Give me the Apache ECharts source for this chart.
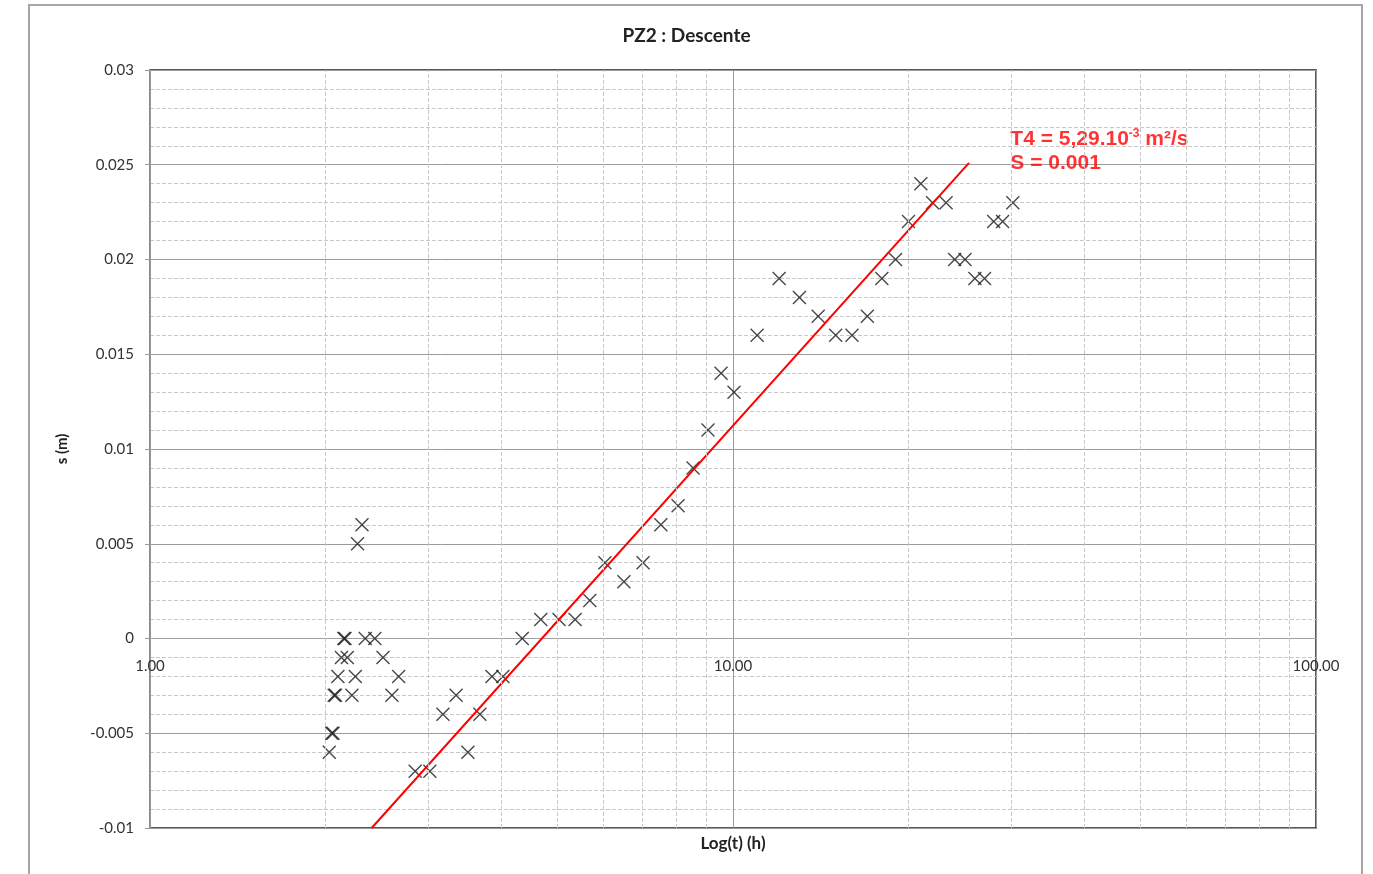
<!DOCTYPE html>
<html>
<head>
<meta charset="utf-8">
<script src="https://cdn.jsdelivr.net/npm/echarts@6/dist/echarts.min.js"></script>
<style>html,body{margin:0;padding:0;background:#fff}#chart{width:1373px;height:874px}</style>
</head>
<body>
<div id="chart"></div>
<script>
// Measured data: time (h) and drawdown s (m)
const timeH = [2.03, 2.05, 2.06, 2.07, 2.08, 2.10, 2.13, 2.15, 2.16, 2.18, 2.22, 2.25, 2.27, 2.31, 2.34, 2.43, 2.51, 2.60, 2.67,
  2.85, 3.02, 3.18, 3.35, 3.51, 3.68, 3.86, 4.03, 4.35, 4.68, 5.03, 5.36, 5.68, 6.03, 6.50, 7.01, 7.52, 8.05, 8.54, 9.06, 9.54,
  10.04, 11, 12, 13, 14, 15, 16, 17, 18, 19, 20, 21, 22, 23.2, 24, 25, 26, 27, 28, 29, 30.2];
const drawdown = [-0.006, -0.005, -0.005, -0.003, -0.003, -0.002, -0.001, 0, 0, -0.001, -0.003, -0.002, 0.005, 0.006, 0, 0, -0.001, -0.003, -0.002,
  -0.007, -0.007, -0.004, -0.003, -0.006, -0.004, -0.002, -0.002, 0, 0.001, 0.001, 0.001, 0.002, 0.004, 0.003, 0.004, 0.006, 0.007, 0.009, 0.011, 0.014,
  0.013, 0.016, 0.019, 0.018, 0.017, 0.016, 0.016, 0.017, 0.019, 0.020, 0.022, 0.024, 0.023, 0.023, 0.020, 0.020, 0.019, 0.019, 0.022, 0.022, 0.023];
// Fitted Jacob straight line
const fitT = [2.40, 25.4];
const fitS = [-0.01, 0.0251];
// Minor vertical grid positions on the log axis
const minorX = [2, 3, 4, 5, 6, 7, 8, 9, 20, 30, 40, 50, 60, 70, 80, 90];
const yTicks = { min: -0.01, max: 0.03, interval: 0.005 };
const xTicks = { min: 1, max: 100 };
const titleText = 'PZ2 : Descente';
const annotT = 29.9, annotS = 0.0257;

const FONT = 'Lato, "Liberation Sans", sans-serif';
const chart = echarts.init(document.getElementById('chart'), null, { renderer: 'canvas' });
chart.setOption({
  animation: false,
  backgroundColor: '#fff',
  title: {
    text: titleText, left: 'center', top: 21,
    textStyle: { fontFamily: FONT, fontSize: 19, fontWeight: 'bold', color: '#222' }
  },
  graphic: [
    { type: 'rect', shape: { x: 29, y: 5, width: 1333, height: 900 }, style: { fill: 'none', stroke: '#a6a6a6', lineWidth: 2 }, z: -1 },
    { type: 'text', x: 733, y: 835, style: { text: 'Log(t) (h)', font: 'bold 17px ' + FONT, fill: '#222', textAlign: 'center' } }
  ],
  grid: { left: 150, right: 57, top: 70, bottom: 46, show: true, borderColor: '#222', borderWidth: 1.5, backgroundColor: 'transparent' },
  xAxis: {
    type: 'log', logBase: 10, min: xTicks.min, max: xTicks.max,
    position: 'bottom', offset: -189.5,
    axisLine: { onZero: false, lineStyle: { color: '#a0a0a0' } },
    axisTick: { show: false },
    axisLabel: { margin: 20, fontFamily: FONT, fontSize: 15, color: '#333', formatter: v => v.toFixed(2), showMinLabel: true, showMaxLabel: true },
    splitLine: { show: true, lineStyle: { color: '#9a9a9a', width: 1 } }
  },
  yAxis: {
    type: 'value', min: yTicks.min, max: yTicks.max, interval: yTicks.interval,
    name: 's (m)', nameLocation: 'middle', nameGap: 80, nameRotate: 90,
    nameTextStyle: { fontFamily: FONT, fontSize: 15, fontWeight: 'bold', color: '#222' },
    axisLine: { show: true, onZero: false, lineStyle: { color: '#9a9a9a', width: 1.5 } },
    axisTick: { show: true, length: 5, lineStyle: { color: '#9a9a9a' } },
    axisLabel: { margin: 16, fontFamily: FONT, fontSize: 15, color: '#333' },
    splitLine: { show: true, lineStyle: { color: '#9a9a9a', width: 1 } },
    minorTick: { show: false, splitNumber: 5 },
    minorSplitLine: { show: true, lineStyle: { color: '#c8c8c8', type: [4, 2], width: 1 } }
  },
  series: [
    {
      type: 'line', data: [], silent: true,
      markLine: {
        silent: true, symbol: 'none', label: { show: false },
        lineStyle: { color: '#c8c8c8', type: [4, 2], width: 1 },
        data: minorX.map(v => ({ xAxis: v }))
      }
    },
    {
      type: 'scatter', data: timeH.map((t, i) => [t, drawdown[i]]),
      symbol: 'path://M0,0L10,10M10,0L0,10', symbolSize: 13,
      itemStyle: { color: 'rgba(0,0,0,0)', borderColor: '#1a1a1a', borderWidth: 1.4 }, z: 3
    },
    {
      type: 'line', data: fitT.map((t, i) => [t, fitS[i]]), symbol: 'none',
      lineStyle: { color: '#f00', width: 2 }, z: 4
    },
    {
      type: 'scatter', data: [[annotT, annotS]], symbolSize: 0, silent: true,
      label: {
        show: true, position: 'right', distance: 0, align: 'left',
        formatter: () => '{a|T4 = 5,29.10}{s|-3}{a| m²/s}\n{a|S = 0.001}',
        rich: {
          a: { fontFamily: '"Liberation Sans", Arial, sans-serif', fontSize: 21, fontWeight: 'bold', color: '#f00', lineHeight: 24 },
          s: { fontFamily: '"Liberation Sans", Arial, sans-serif', fontSize: 12, fontWeight: 'bold', color: '#f00', verticalAlign: 'top', lineHeight: 24, padding: [0, 0, 10, 0] }
        }
      }
    }
  ]
});
</script>
</body>
</html>
